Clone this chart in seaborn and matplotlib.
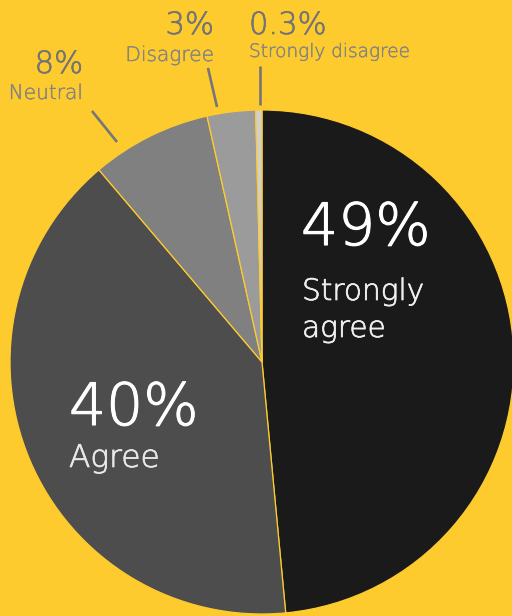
import matplotlib
matplotlib.use("Agg")
import matplotlib.pyplot as plt
import matplotlib.patheffects as pe
import seaborn as sns

# ---- data ----
categories = ["Strongly agree", "Agree", "Neutral", "Disagree", "Strongly disagree"]
shares = [48.5, 40.3, 7.7, 3.1, 0.4]          # slice sizes as drawn
pct_labels = ["49%", "40%", "8%", "3%", "0.3%"]  # printed labels
name_labels = ["Strongly\nagree", "Agree", "Neutral", "Disagree", "Strongly disagree"]
colors = ["#1a1a1a", "#4d4d4d", "#808080", "#9b9b9b", "#d0d0d0"]

BG = "#fecb2f"
sns.set_theme(style="white", rc={"figure.facecolor": BG, "axes.facecolor": BG})
plt.rcParams["font.family"] = ["DejaVu Sans"]

fig = plt.figure(figsize=(5.12, 6.16), dpi=100)
ax = fig.add_axes([0, 0, 1, 1])
ax.set_facecolor(BG)

H = 616
ax.pie(shares, colors=sns.color_palette(colors), startangle=90, counterclock=False,
       center=(262, H - 362), radius=252,
       wedgeprops=dict(edgecolor=BG, linewidth=0.9))
ax.set_xlim(0, 512)
ax.set_ylim(0, H)
ax.axis("off")

def T(x, y, s, size, color, ha="left", sw=0.5):
    ax.text(x, H - y, s, fontsize=size, color=color, ha=ha, va="baseline",
            fontweight="light",
            path_effects=[pe.withStroke(linewidth=sw, foreground=color)])

# big labels inside slices
T(301, 245, pct_labels[0], 42, "white", sw=0.8)
T(302, 300, "Strongly", 21.3, "#efefef")
T(302, 337, "agree", 21.3, "#efefef")
T(69, 425, pct_labels[1], 42, "white", sw=0.8)
T(69, 467, name_labels[1], 22.5, "#e8e8e8")

# small outside labels
pc = "#747474"
lc = "#858580"
T(83, 73, pct_labels[2], 22, pc, ha="right")
T(83, 99, name_labels[2], 14.5, lc, ha="right", sw=0.3)
T(214, 34, pct_labels[3], 22, pc, ha="right")
T(214, 61, name_labels[3], 14.5, lc, ha="right", sw=0.3)
T(249, 34, pct_labels[4], 22, pc)
T(249, 57, name_labels[4], 13.3, lc, sw=0.3)

# leader lines
for (x0, y0, x1, y1) in [(92, 111, 117, 142), (208, 68, 217, 107), (260, 66, 260, 105)]:
    ax.plot([x0, x1], [H - y0, H - y1], color="#767676", lw=1.9, solid_capstyle="butt")

fig.savefig("out.png", dpi=100, facecolor=BG)
